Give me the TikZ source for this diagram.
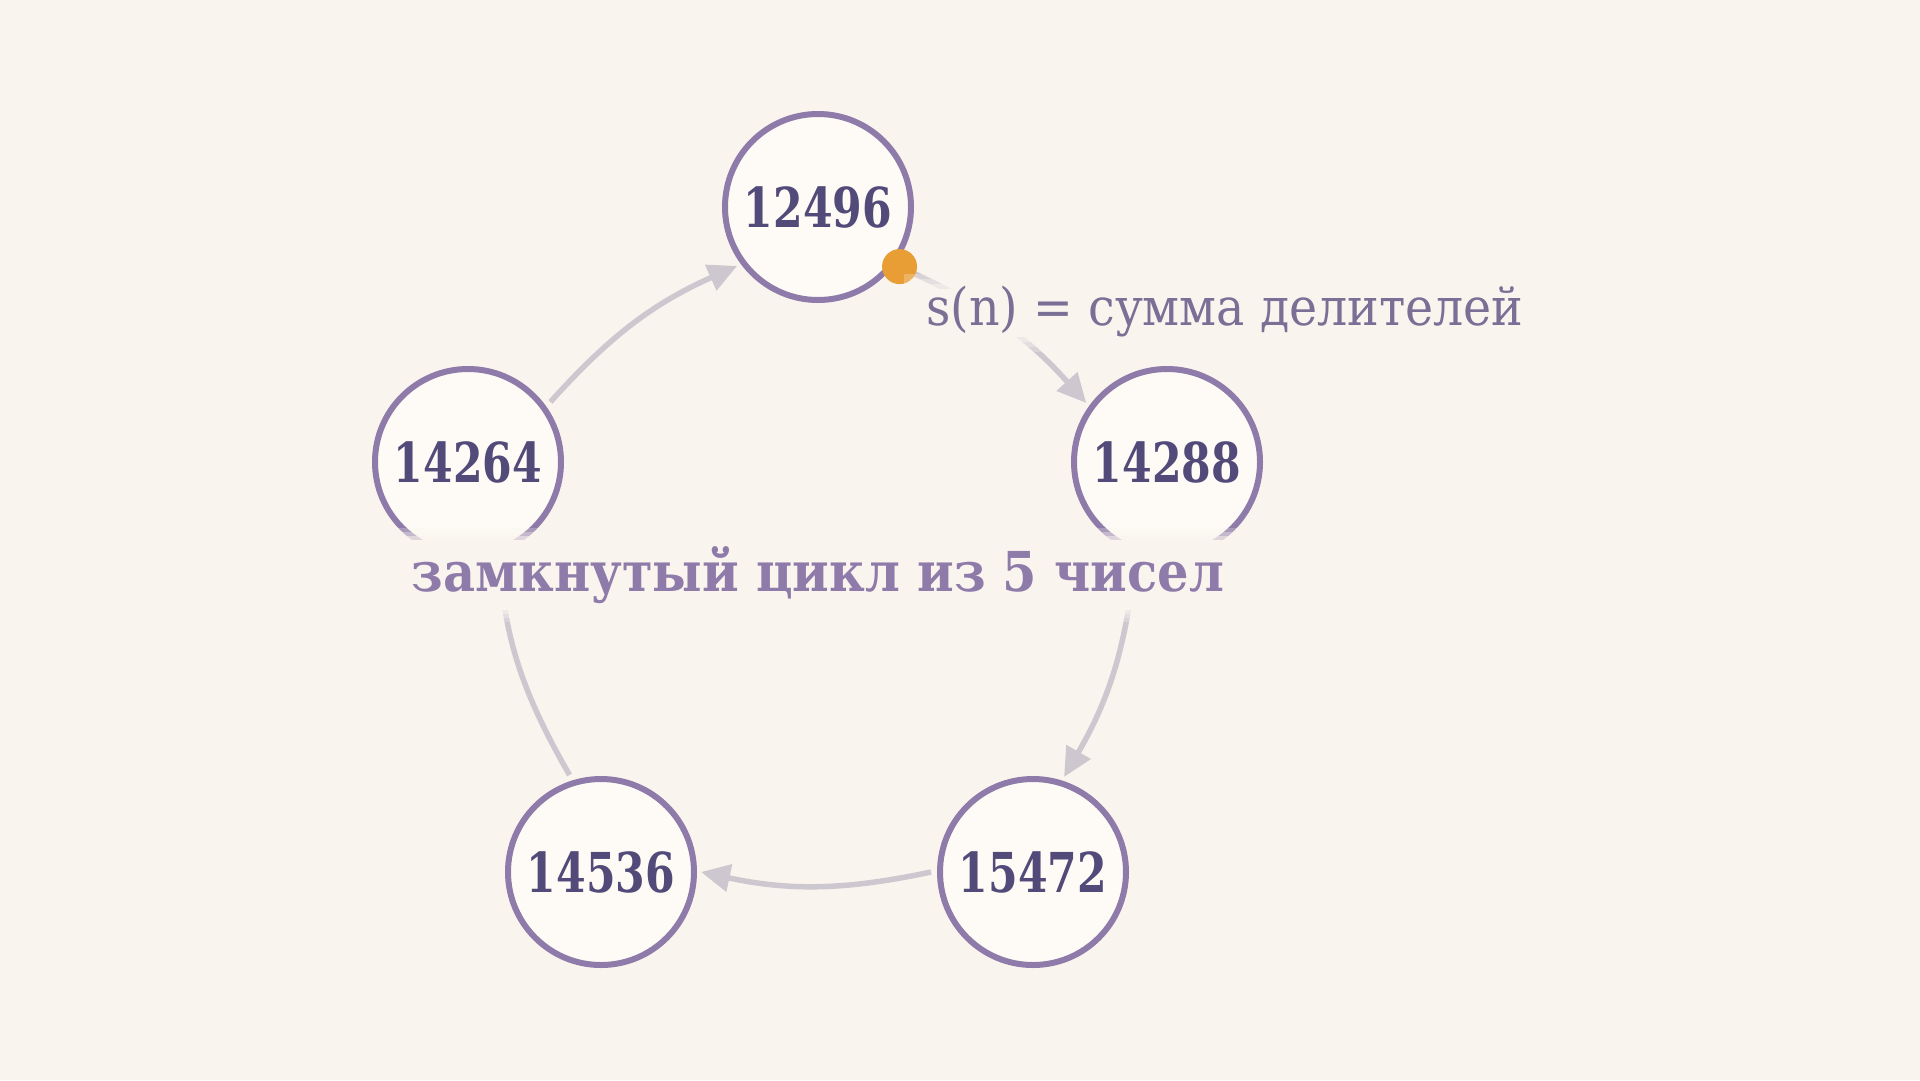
\documentclass[tikz,border=0pt]{standalone}
\usepackage{fontspec}
\newfontfamily\numfont[FakeStretch=0.86]{DejaVu Serif Condensed}
\newfontfamily\cycfont{DejaVu Serif Condensed}
\newfontfamily\lblfont[FakeStretch=1.015]{DejaVu Serif Condensed}
\usetikzlibrary{calc,arrows.meta}
\definecolor{bgcol}{HTML}{FAF4EE}
\definecolor{nodefill}{HTML}{FEFBF6}
\definecolor{nodeline}{HTML}{8E7BAA}
\definecolor{numtext}{HTML}{524A78}
\definecolor{edgecol}{HTML}{CDC8D0}
\definecolor{dotcol}{HTML}{E89E35}
\definecolor{sumtext}{HTML}{7A7096}
\definecolor{cycletext}{HTML}{8E7BAA}
\begin{document}
\begin{tikzpicture}[x=1pt,y=-1pt,
  num/.style={circle, minimum size=186pt, inner sep=0pt, draw=nodeline, line width=6pt,
    fill=nodefill, text=numtext, font=\numfont\bfseries\fontsize{55}{60}\selectfont},
  edge/.style={draw=edgecol, line width=5.5pt, -{Triangle[length=29pt,width=27pt]}},
  lbl/.style={inner sep=0pt, anchor=base},
]
\fill[bgcol] (0,0) rectangle (1920,1080);
\useasboundingbox (0,0) rectangle (1920,1080);
% nodes
\node[num] (a) at (818,207) {12496};
\node[num] (b) at (1167,462) {14288};
\node[num] (c) at (1033,872) {15472};
\node[num] (d) at (601,872) {14536};
\node[num] (e) at (468,462) {14264};
% edges
\draw[edge] ($(e)!102pt!(a)$) to[bend left=12] ($(a)!100pt!(e)$);
\draw[edge] ($(a)!102pt!(b)$) to[bend left=12] ($(b)!100pt!(a)$);
\draw[edge] ($(b)!102pt!(c)$) to[bend left=12] ($(c)!100pt!(b)$);
\draw[edge] ($(c)!102pt!(d)$) to[bend left=12] ($(d)!100pt!(c)$);
\draw[edge] ($(d)!102pt!(e)$) to[bend left=12] ($(e)!100pt!(d)$);
% start marker
\fill[dotcol] ($(a)!101pt!(b)$) circle (17.5);
% label backgrounds (soft edges)
\fill[bgcol, opacity=0.25] (904,274) rectangle (1544,352);
\fill[bgcol, opacity=0.35] (910,279) rectangle (1538,347);
\fill[bgcol, opacity=0.5] (916,284) rectangle (1532,342);
\fill[bgcol] (922,289) rectangle (1526,337);
\fill[bgcol, opacity=0.25] (392,528) rectangle (1244,622);
\fill[bgcol, opacity=0.35] (396,532) rectangle (1240,618);
\fill[bgcol, opacity=0.5] (400,536) rectangle (1236,614);
\fill[bgcol] (404,540) rectangle (1232,610);
% labels
\node[lbl, text=sumtext, font=\lblfont\fontsize{52}{60}\selectfont] (sumlbl) at (1225,325) {s(n) = сумма делителей};
\node[lbl, text=cycletext, font=\cycfont\bfseries\fontsize{55}{60}\selectfont] (cyclbl) at (818,591) {замкнутый цикл из 5 чисел};
\end{tikzpicture}
\end{document}
